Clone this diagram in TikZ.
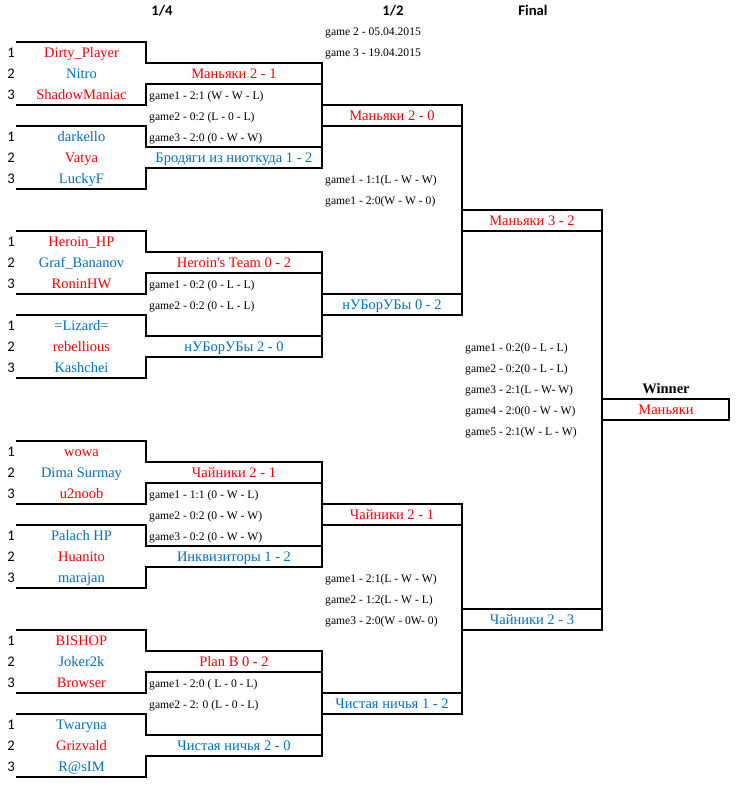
\documentclass[tikz,border=0pt]{standalone}
\usepackage{fontspec}
\setmainfont{Liberation Serif}
\newfontfamily\calibri{Carlito}
\newcommand\straightquote{{\XeTeXglyph\XeTeXcharglyph"0027\relax}}
\definecolor{tred}{RGB}{255,0,0}
\definecolor{tblue}{RGB}{0,112,192}
\tikzset{
  brk/.style={line width=2pt, line cap=rect, line join=miter},
  nm/.style={anchor=base, inner sep=0pt, font=\fontsize{14.5}{16}\selectfont},
  tr/.style={nm, text=tred},
  tb/.style={nm, text=tblue},
  gm/.style={anchor=base west, inner sep=0pt, font=\fontsize{11.6}{13}\selectfont},
  num/.style={anchor=base, inner sep=0pt, font=\calibri\fontsize{14.67}{16}\selectfont},
  hdr/.style={anchor=base, inner sep=0pt, font=\calibri\bfseries\fontsize{14.67}{16}\selectfont},
  win/.style={anchor=base, inner sep=0pt, font=\bfseries\fontsize{14.5}{16}\selectfont},
}
\begin{document}
\begin{tikzpicture}[x=1pt,y=-1pt]
\useasboundingbox[fill=white] (0,0) rectangle (737,787);

% ---- quarter-final brackets ----
\foreach \r in {1,10,20,29}{
  \draw[brk] (17,{41.5+21*(\r-1)}) -- (146,{41.5+21*(\r-1)}) -- (146,{41.5+21*\r})
     -- (322,{41.5+21*\r}) -- (322,{41.5+21*(\r+5)}) -- (146,{41.5+21*(\r+5)})
     -- (146,{41.5+21*(\r+6)}) -- (17,{41.5+21*(\r+6)});
  \draw[brk] (17,{41.5+21*(\r+2)}) -- (146,{41.5+21*(\r+2)}) -- (146,{41.5+21*(\r+1)}) -- (322,{41.5+21*(\r+1)});
  \draw[brk] (17,{41.5+21*(\r+3)}) -- (146,{41.5+21*(\r+3)}) -- (146,{41.5+21*(\r+4)}) -- (322,{41.5+21*(\r+4)});
  \draw[brk] (322,{41.5+21*(\r+2)}) -- (462,{41.5+21*(\r+2)});
  \draw[brk] (322,{41.5+21*(\r+3)}) -- (462,{41.5+21*(\r+3)});
}
% ---- semi-final brackets ----
\draw[brk] (322,104.5) -- (462,104.5) -- (462,314.5) -- (322,314.5);
\draw[brk] (322,503.5) -- (462,503.5) -- (462,713.5) -- (322,713.5);
% ---- final ----
\draw[brk] (462,209.5) -- (602,209.5) -- (602,629.5) -- (462,629.5);
\draw[brk] (462,230.5) -- (602,230.5);
\draw[brk] (462,608.5) -- (602,608.5);
% ---- winner ----
\draw[brk] (602,398.5) -- (728.5,398.5) -- (728.5,419.5) -- (602,419.5);

% ---- headers ----
\node[hdr] (h14) at (162,15) {1/4};
\node[hdr] (h12) at (393,15) {1/2};
\node[hdr] (hfin) at (533,15) {Final};
\node[gm] (d2) at (325,35) {game 2 - 05.04.2015};
\node[gm] (d3) at (325,56) {game 3 - 19.04.2015};

% ---- seed numbers ----
\foreach \b/\t [count=\i] in {57/1,78/2,99/3,141/1,162/2,183/3,
   246/1,267/2,288/3,330/1,351/2,372/3,
   456/1,477/2,498/3,540/1,561/2,582/3,
   645/1,666/2,687/3,729/1,750/2,771/3}{
  \node[num] (n\i) at (11,\b) {\t};
}

% ---- group 1 ----
\node[tr] (t1) at (81.5,57) {Dirty\_Player};
\node[tb] (t2) at (81.5,78) {Nitro};
\node[tr] (t3) at (81.5,99) {ShadowManiac};
\node[tb] (t4) at (81.5,141) {darkello};
\node[tr] (t5) at (81.5,162) {Vatya};
\node[tb] (t6) at (81.5,183) {LuckyF};
\node[tr] (m1) at (234,78) {Маньяки 2 - 1};
\node[tb] (m2) at (234,162) {Бродяги из ниоткуда 1 - 2};
\node[gm] (g11) at (149,99) {game1 - 2:1 (W - W - L)};
\node[gm] (g12) at (149,120) {game2 - 0:2 (L - 0 - L)};
\node[gm] (g13) at (149,141) {game3 - 2:0 (0 - W - W)};

% ---- group 2 ----
\node[tr] (t7) at (81.5,246) {Heroin\_HP};
\node[tb] (t8) at (81.5,267) {Graf\_Bananov};
\node[tr] (t9) at (81.5,288) {RoninHW};
\node[tb] (t10) at (81.5,330) {=Lizard=};
\node[tr] (t11) at (81.5,351) {rebellious};
\node[tb] (t12) at (81.5,372) {Kashchei};
\node[tr] (m3) at (234,267) {Heroin\straightquote s Team 0 - 2};
\node[tb] (m4) at (234,351) {нУБорУБы 2 - 0};
\node[gm] (g21) at (149,288) {game1 - 0:2 (0 - L - L)};
\node[gm] (g22) at (149,309) {game2 - 0:2 (0 - L - L)};

% ---- group 3 ----
\node[tr] (t13) at (81.5,456) {wowa};
\node[tb] (t14) at (81.5,477) {Dima Surmay};
\node[tr] (t15) at (81.5,498) {u2noob};
\node[tb] (t16) at (81.5,540) {Palach HP};
\node[tr] (t17) at (81.5,561) {Huanito};
\node[tb] (t18) at (81.5,582) {marajan};
\node[tr] (m5) at (234,477) {Чайники 2 - 1};
\node[tb] (m6) at (234,561) {Инквизиторы 1 - 2};
\node[gm] (g31) at (149,498) {game1 - 1:1 (0 - W - L)};
\node[gm] (g32) at (149,519) {game2 - 0:2 (0 - W - W)};
\node[gm] (g33) at (149,540) {game3 - 0:2 (0 - W - W)};

% ---- group 4 ----
\node[tr] (t19) at (81.5,645) {BISHOP};
\node[tb] (t20) at (81.5,666) {Joker2k};
\node[tr] (t21) at (81.5,687) {Browser};
\node[tb] (t22) at (81.5,729) {Twaryna};
\node[tr] (t23) at (81.5,750) {Grizvald};
\node[tb] (t24) at (81.5,771) {R@sIM};
\node[tr] (m7) at (234,666) {Plan B 0 - 2};
\node[tb] (m8) at (234,750) {Чистая ничья 2 - 0};
\node[gm] (g41) at (149,687) {game1 - 2:0 ( L - 0 - L)};
\node[gm] (g42) at (149,708) {game2 - 2: 0 (L - 0 - L)};

% ---- semi-finals ----
\node[tr] (s1) at (392,120) {Маньяки 2 - 0};
\node[tb] (s2) at (392,309) {нУБорУБы 0 - 2};
\node[gm] (sg11) at (325,183) {game1 - 1:1(L - W - W)};
\node[gm] (sg12) at (325,204) {game1 - 2:0(W - W - 0)};
\node[tr] (s3) at (392,519) {Чайники 2 - 1};
\node[tb] (s4) at (392,708) {Чистая ничья 1 - 2};
\node[gm] (sg21) at (325,582) {game1 - 2:1(L - W - W)};
\node[gm] (sg22) at (325,603) {game2 - 1:2(L - W - L)};
\node[gm] (sg23) at (325,624) {game3 - 2:0(W - 0W- 0)};

% ---- final ----
\node[tr] (f1) at (532,225) {Маньяки 3 - 2};
\node[tb] (f2) at (532,624) {Чайники 2 - 3};
\node[gm] (fg1) at (465,351) {game1 - 0:2(0 - L - L)};
\node[gm] (fg2) at (465,372) {game2 - 0:2(0 - L - L)};
\node[gm] (fg3) at (465,393) {game3 - 2:1(L - W- W)};
\node[gm] (fg4) at (465,414) {game4 - 2:0(0 - W - W)};
\node[gm] (fg5) at (465,435) {game5 - 2:1(W - L - W)};

% ---- winner ----
\node[win] (wl) at (666,393) {Winner};
\node[tr] (wn) at (666,414) {Маньяки};
\end{tikzpicture}
\end{document}
